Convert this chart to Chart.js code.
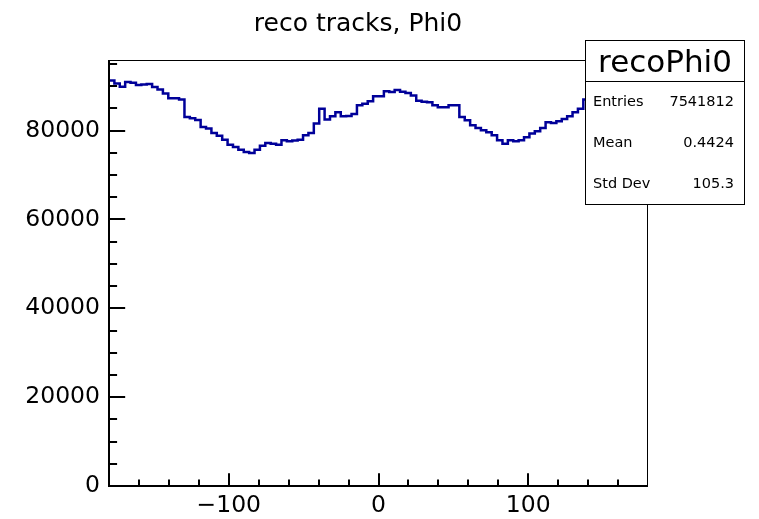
<!DOCTYPE html>
<html>
<head>
<meta charset="utf-8">
<script src="https://cdn.jsdelivr.net/npm/chart.js@4.4.1/dist/chart.umd.min.js"></script>
<style>html,body{margin:0;padding:0;background:#fff}</style>
</head>
<body>
<canvas id="c" width="759" height="519"></canvas>
<script>
// histogram recoPhi0: 100 bins from -180 to 180
const xLow = -180;
const xHigh = 180;
const counts = [
  91300, 90630, 89880, 90920, 90800, 90250, 90400, 90480, 89800, 89270,
  88370, 87300, 87300, 87010, 83050, 82800, 82400, 80840, 80500, 79480,
  78870, 77970, 76840, 76310, 75710, 75200, 74960, 75710, 76610, 77220,
  77070, 76840, 77820, 77600, 77800, 77970, 78950, 79480, 81590, 84900,
  82490, 83240, 84140, 83240, 83300, 83770, 85730, 86030, 86630, 87760,
  87760, 88890, 88670, 89120, 88740, 88450, 87910, 86700, 86500, 86400,
  85700, 85280, 85280, 85730, 85730, 83090, 82340, 81210, 80600, 80080,
  79630, 78950, 77820, 77070, 77820, 77600, 77820, 78500, 79330, 79850,
  80600, 81890, 81740, 82110, 82640, 83240, 84140, 84900, 87010, 87500,
  88000, 88600, 89000, 89400, 89800, 90100, 90400, 90600, 90900, 91100
];
const xTickLabels = [-100, 0, 100];
const yTickLabels = [0, 20000, 40000, 60000, 80000];
const yMax = 95900;
const titleText = 'reco tracks, Phi0';
const statsName = 'recoPhi0';
const statsLabels = ['Entries', 'Mean', 'Std Dev'];
const statsValues = ['7541812', '0.4424', '105.3'];

const binW = (xHigh - xLow) / counts.length;
const points = counts.map((v, i) => ({ x: xLow + i * binW, y: v }));
points.push({ x: xHigh, y: counts[counts.length - 1] });

const FONT = '"DejaVu Sans", sans-serif';

const rootFrame = {
  id: 'rootFrame',
  afterDraw(chart) {
    const ctx = chart.ctx;
    const a = chart.chartArea;
    const xs = chart.scales.x, ys = chart.scales.y;
    const w = a.right - a.left, h = a.bottom - a.top;
    ctx.save();
    ctx.strokeStyle = '#000';
    ctx.lineWidth = 1;
    ctx.strokeRect(a.left + 0.5, a.top + 0.5, w - 1, h);
    // axes
    ctx.lineWidth = 2;
    ctx.beginPath();
    ctx.moveTo(a.left, a.top);
    ctx.lineTo(a.left, a.bottom);
    ctx.lineTo(a.right, a.bottom);
    ctx.stroke();
    // x ticks (inward)
    const xt = 0.03 * h;
    ctx.beginPath();
    for (let v = -160; v <= 160; v += 20) {
      const px = Math.round(xs.getPixelForValue(v));
      const len = xTickLabels.includes(v) ? xt : xt / 2;
      ctx.moveTo(px, a.bottom);
      ctx.lineTo(px, a.bottom - len);
    }
    // y ticks
    const yt = 0.03 * w;
    for (let v = 0; v <= yMax; v += 5000) {
      const py = Math.round(ys.getPixelForValue(v));
      const len = yTickLabels.includes(v) ? yt : yt / 2;
      ctx.moveTo(a.left, py);
      ctx.lineTo(a.left + len, py);
    }
    ctx.stroke();

    // title
    ctx.fillStyle = '#000';
    ctx.font = '25px ' + FONT;
    ctx.textAlign = 'center';
    ctx.textBaseline = 'alphabetic';
    ctx.fillText(titleText, 358, 31);

    // stats box
    const bx = 585.5, by = 40.5, bw = 159, bh = 164;
    ctx.fillStyle = '#fff';
    ctx.fillRect(bx, by, bw, bh);
    ctx.lineWidth = 1;
    ctx.strokeRect(bx, by, bw, bh);
    ctx.beginPath();
    ctx.moveTo(bx, 81.5);
    ctx.lineTo(bx + bw, 81.5);
    ctx.stroke();
    ctx.fillStyle = '#000';
    ctx.font = '31px ' + FONT;
    ctx.textAlign = 'center';
    ctx.fillText(statsName, bx + bw / 2, 72);
    ctx.font = '14.5px ' + FONT;
    ctx.textBaseline = 'middle';
    statsLabels.forEach((lab, i) => {
      const y = 102 + i * 41;
      ctx.textAlign = 'left';
      ctx.fillText(lab, 593, y);
      ctx.textAlign = 'right';
      ctx.fillText(statsValues[i], 734, y);
    });
    ctx.restore();
  }
};

new Chart(document.getElementById('c'), {
  type: 'line',
  data: {
    datasets: [{
      data: points,
      stepped: 'before',
      borderColor: '#000099',
      borderWidth: 2.5,
      pointRadius: 0,
      fill: false
    }]
  },
  options: {
    responsive: false,
    animation: false,
    devicePixelRatio: 1,
    layout: { padding: { left: 0, right: 111, top: 60, bottom: 0 } },
    plugins: { legend: { display: false }, tooltip: { enabled: false } },
    scales: {
      x: {
        type: 'linear',
        min: xLow,
        max: xHigh,
        grid: { display: false, drawTicks: false },
        border: { display: false },
        afterBuildTicks: s => { s.ticks = xTickLabels.map(v => ({ value: v })); },
        afterFit: s => { s.height = 33; },
        ticks: {
          autoSkip: false,
          maxRotation: 0,
          padding: 6,
          color: '#000',
          font: { family: FONT, size: 23.5 },
          callback: v => (v < 0 ? '\u2212' + Math.abs(v) : String(v))
        }
      },
      y: {
        min: 0,
        max: yMax,
        grid: { display: false, drawTicks: false },
        border: { display: false },
        afterBuildTicks: s => { s.ticks = yTickLabels.map(v => ({ value: v })); },
        afterFit: s => { s.width = 109; },
        ticks: {
          padding: 9,
          color: '#000',
          font: { family: FONT, size: 23.5 },
          callback: v => String(v)
        }
      }
    }
  },
  plugins: [rootFrame]
});
</script>
</body>
</html>
